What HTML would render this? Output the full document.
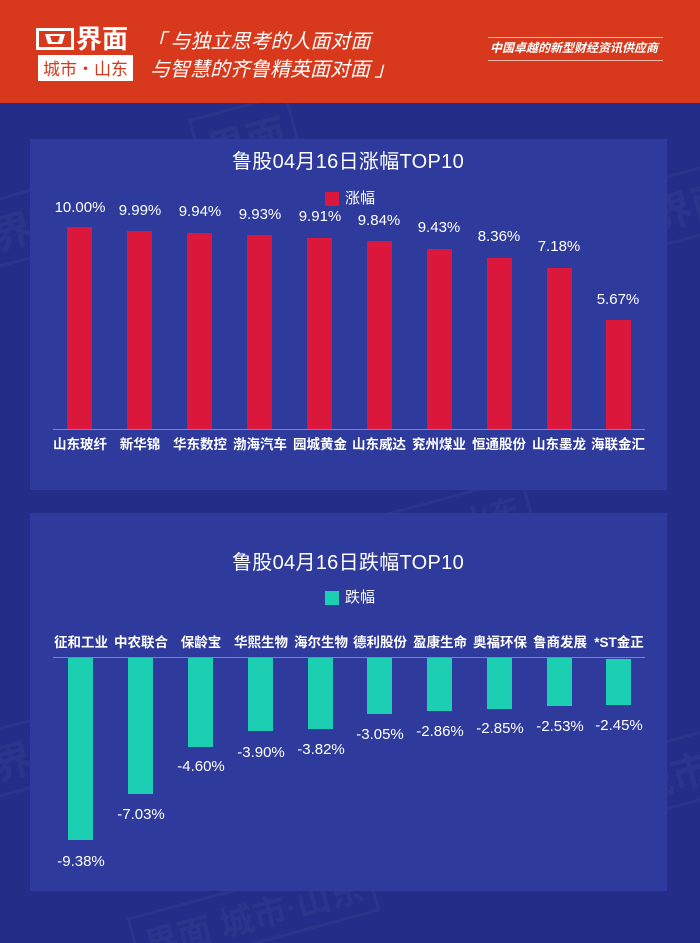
<!DOCTYPE html>
<html><head><meta charset="utf-8">
<style>
*{margin:0;padding:0;box-sizing:border-box}
html,body{width:700px;height:943px;overflow:hidden}
body{background:#242e88;position:relative;font-family:"Liberation Sans","Noto Sans CJK SC",sans-serif;color:#fff}
.abs{position:absolute}
.hdr{left:0;top:0;width:700px;height:103px;background:#d8391d}
.panel{left:30px;width:637px;background:#2e3a9c}
.bar{position:absolute;width:25px}
.r{background:#db173c}
.t{background:#1ccfb2}
.val{position:absolute;width:80px;text-align:center;font-size:15px;line-height:18px;white-space:nowrap}
.cat{position:absolute;width:70px;text-align:center;font-size:13.5px;line-height:18px;white-space:nowrap;font-weight:bold;font-family:"Liberation Sans","Noto Sans CJK SC",sans-serif}
.title{position:absolute;left:150px;width:400px;text-align:center;font-size:20px;line-height:24px;letter-spacing:0.3px;font-family:"Liberation Sans","Noto Sans CJK SC",sans-serif}
.axis{position:absolute;left:53px;width:592px;height:1px;background:#7280d6}
.wm{position:absolute;color:rgba(255,255,255,0.035);border:3px solid rgba(255,255,255,0.035);font-weight:bold;font-family:"Liberation Sans","Noto Sans CJK SC",sans-serif;transform:rotate(-15deg);white-space:nowrap;padding:2px 8px}
</style></head><body>

<!-- watermarks -->
<div class="wm" style="left:195px;top:105px;font-size:40px">界面</div>
<div class="wm" style="left:-20px;top:190px;font-size:40px">界面</div>
<div class="wm" style="left:640px;top:170px;font-size:40px">界面</div>
<div class="wm" style="left:380px;top:495px;font-size:30px">城市·山东</div>
<div class="wm" style="left:-20px;top:720px;font-size:40px">界面</div>
<div class="wm" style="left:620px;top:740px;font-size:40px">城市</div>
<div class="wm" style="left:130px;top:885px;font-size:34px">界面 城市·山东</div>

<!-- header -->
<div class="abs hdr"></div>
<svg class="abs" style="left:36px;top:28px" width="38" height="22" viewBox="0 0 38 22">
  <rect x="0" y="0" width="38" height="22" fill="#fff"/>
  <rect x="3" y="3" width="32" height="16" fill="#d8391d"/>
  <polygon points="9,6 29,6 26,16 12,16" fill="#fff"/>
  <polygon points="14,8 24,8 22,14 16,14" fill="#d8391d"/>
</svg>
<div class="abs" style="left:76px;top:23px;font-size:26px;line-height:30px;font-weight:bold;font-family:'Noto Sans CJK SC',sans-serif">界面</div>
<div class="abs" style="left:38px;top:55px;width:95px;height:26px;background:#fff;color:#d8391d;font-size:17px;line-height:26px;text-align:center;font-family:'Noto Sans CJK SC',sans-serif">城市·山东</div>
<div class="abs" style="left:146px;top:28px;font-size:20px;line-height:24px;font-style:italic;white-space:nowrap;font-family:'Noto Sans CJK SC',sans-serif">「 与独立思考的人面对面</div>
<div class="abs" style="left:150px;top:56px;font-size:20px;line-height:24px;font-style:italic;white-space:nowrap;font-family:'Noto Sans CJK SC',sans-serif">与智慧的齐鲁精英面对面 」</div>
<div class="abs" style="left:488px;top:37px;width:175px;height:1px;background:rgba(255,225,215,0.75)"></div>
<div class="abs" style="left:488px;top:60px;width:175px;height:1px;background:rgba(255,225,215,0.75)"></div>
<div class="abs" style="left:490px;top:40px;font-size:12px;line-height:16px;font-weight:bold;font-style:italic;white-space:nowrap;font-family:'Noto Sans CJK SC',sans-serif">中国卓越的新型财经资讯供应商</div>

<!-- panel 1 -->
<div class="abs panel" style="top:139px;height:351px"></div>
<div class="title" style="left:148px;top:150px">鲁股04月16日涨幅TOP10</div>
<div class="abs r" style="left:325px;top:192px;width:14px;height:14px"></div>
<div class="abs" style="left:345px;top:189px;font-size:15px;line-height:20px">涨幅</div>

<div class="bar r" style="left:67px;top:227px;height:202px"></div>
<div class="bar r" style="left:127px;top:231px;height:198px"></div>
<div class="bar r" style="left:187px;top:233px;height:196px"></div>
<div class="bar r" style="left:247px;top:235px;height:194px"></div>
<div class="bar r" style="left:307px;top:238px;height:191px"></div>
<div class="bar r" style="left:367px;top:241px;height:188px"></div>
<div class="bar r" style="left:427px;top:249px;height:180px"></div>
<div class="bar r" style="left:487px;top:258px;height:171px"></div>
<div class="bar r" style="left:547px;top:268px;height:161px"></div>
<div class="bar r" style="left:606px;top:320px;height:109px"></div>

<div class="val" style="left:40px;top:199px">10.00%</div>
<div class="val" style="left:100px;top:202px">9.99%</div>
<div class="val" style="left:160px;top:203px">9.94%</div>
<div class="val" style="left:220px;top:206px">9.93%</div>
<div class="val" style="left:280px;top:208px">9.91%</div>
<div class="val" style="left:339px;top:212px">9.84%</div>
<div class="val" style="left:399px;top:219px">9.43%</div>
<div class="val" style="left:459px;top:228px">8.36%</div>
<div class="val" style="left:519px;top:238px">7.18%</div>
<div class="val" style="left:578px;top:291px">5.67%</div>

<div class="axis" style="top:429px"></div>
<div class="cat" style="left:45px;top:436px">山东玻纤</div>
<div class="cat" style="left:105px;top:436px">新华锦</div>
<div class="cat" style="left:165px;top:436px">华东数控</div>
<div class="cat" style="left:225px;top:436px">渤海汽车</div>
<div class="cat" style="left:285px;top:436px">园城黄金</div>
<div class="cat" style="left:344px;top:436px">山东威达</div>
<div class="cat" style="left:404px;top:436px">兖州煤业</div>
<div class="cat" style="left:464px;top:436px">恒通股份</div>
<div class="cat" style="left:524px;top:436px">山东墨龙</div>
<div class="cat" style="left:583px;top:436px">海联金汇</div>

<!-- panel 2 -->
<div class="abs panel" style="top:513px;height:378px"></div>
<div class="title" style="left:148px;top:551px">鲁股04月16日跌幅TOP10</div>
<div class="abs t" style="left:325px;top:591px;width:14px;height:14px"></div>
<div class="abs" style="left:345px;top:588px;font-size:15px;line-height:20px">跌幅</div>

<div class="cat" style="left:46px;top:634px">征和工业</div>
<div class="cat" style="left:106px;top:634px">中农联合</div>
<div class="cat" style="left:166px;top:634px">保龄宝</div>
<div class="cat" style="left:226px;top:634px">华熙生物</div>
<div class="cat" style="left:286px;top:634px">海尔生物</div>
<div class="cat" style="left:345px;top:634px">德利股份</div>
<div class="cat" style="left:405px;top:634px">盈康生命</div>
<div class="cat" style="left:465px;top:634px">奥福环保</div>
<div class="cat" style="left:525px;top:634px">鲁商发展</div>
<div class="cat" style="left:584px;top:634px">*ST金正</div>
<div class="axis" style="top:657px"></div>

<div class="bar t" style="left:68px;top:658px;height:182px"></div>
<div class="bar t" style="left:128px;top:658px;height:136px"></div>
<div class="bar t" style="left:188px;top:658px;height:89px"></div>
<div class="bar t" style="left:248px;top:658px;height:73px"></div>
<div class="bar t" style="left:308px;top:658px;height:71px"></div>
<div class="bar t" style="left:367px;top:658px;height:56px"></div>
<div class="bar t" style="left:427px;top:658px;height:53px"></div>
<div class="bar t" style="left:487px;top:658px;height:51px"></div>
<div class="bar t" style="left:547px;top:658px;height:48px"></div>
<div class="bar t" style="left:606px;top:659px;height:46px"></div>

<div class="val" style="left:41px;top:853px">-9.38%</div>
<div class="val" style="left:101px;top:806px">-7.03%</div>
<div class="val" style="left:161px;top:758px">-4.60%</div>
<div class="val" style="left:221px;top:744px">-3.90%</div>
<div class="val" style="left:281px;top:741px">-3.82%</div>
<div class="val" style="left:340px;top:726px">-3.05%</div>
<div class="val" style="left:400px;top:723px">-2.86%</div>
<div class="val" style="left:460px;top:720px">-2.85%</div>
<div class="val" style="left:520px;top:718px">-2.53%</div>
<div class="val" style="left:579px;top:717px">-2.45%</div>

</body></html>
